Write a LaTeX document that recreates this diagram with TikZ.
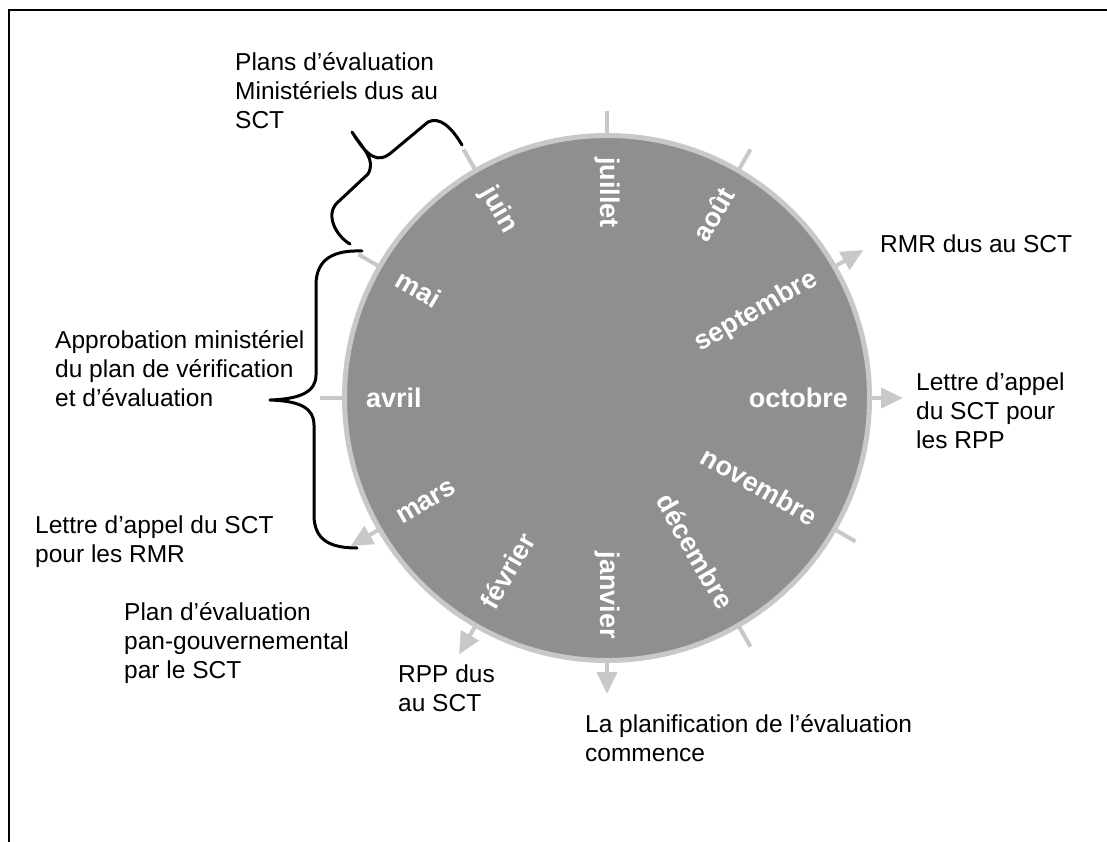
\documentclass[tikz,border=0pt]{standalone}
\usepackage{fontspec}
\setmainfont{Liberation Sans}
\usetikzlibrary{arrows.meta}
\definecolor{ringgray}{RGB}{200,200,200}
\definecolor{wheelgray}{RGB}{143,143,143}
\begin{document}
\begin{tikzpicture}[x=1pt,y=1pt,
  txt/.style={anchor=north west, inner sep=0pt, align=left, font=\fontsize{24.5}{29}\selectfont, text=black},
  month/.style={inner sep=0pt, text=white, font=\bfseries\fontsize{27}{30}\selectfont},
  tickline/.style={draw=ringgray, line width=4pt},
  evtarrow/.style={tickline, -{Triangle[length=22pt,width=20pt]}},
  bracket/.style={draw=black, line width=3pt, line cap=round, line join=round}]
\useasboundingbox (0,0) rectangle (1107,-842);
\draw[line width=2.5pt] (9,-842) -- (9,-10) -- (1107,-10);
\coordinate (c) at (607,-398);
\filldraw[fill=wheelgray, draw=ringgray, line width=5pt] (c) circle (262.5);
\foreach \a in {90,60,-30,-60,180,150,120}
  \draw[tickline] (c) ++(\a:264) -- ++(\a:23);
\foreach \a in {30,0,-90,-120,-150}
  \draw[evtarrow] (c) ++(\a:264) -- ++(\a:32);
% month labels
\node[month, rotate=-90, anchor=west] (jul) at ([shift={(90:241)}]c) {juillet};
\node[month, rotate=60, anchor=east] (aou) at ([shift={(60:241)}]c) {août};
\node[month, rotate=30, anchor=east] (sep) at ([shift={(30:241)}]c) {septembre};
\node[month, rotate=0, anchor=east] (oct) at ([shift={(0:241)}]c) {octobre};
\node[month, rotate=-30, anchor=east] (nov) at ([shift={(-30:241)}]c) {novembre};
\node[month, rotate=-60, anchor=east] (dec) at ([shift={(-60:241)}]c) {décembre};
\node[month, rotate=-90, anchor=east] (jan) at ([shift={(-90:241)}]c) {janvier};
\node[month, rotate=60, anchor=west] (fev) at ([shift={(-120:241)}]c) {février};
\node[month, rotate=30, anchor=west] (mar) at ([shift={(-150:241)}]c) {mars};
\node[month, rotate=0, anchor=west] (avr) at ([shift={(180:241)}]c) {avril};
\node[month, rotate=-30, anchor=west] (mai) at ([shift={(150:241)}]c) {mai};
\node[month, rotate=-60, anchor=west] (jun) at ([shift={(120:241)}]c) {juin};
% texts
\node[txt] (plans) at (235,-52.5) {Plans d’évaluation\\Ministériels dus au\\SCT};
\node[txt] (rmrdus) at (880,-235) {RMR dus au SCT};
\node[txt] (lettrerpp) at (916,-372.5) {Lettre d’appel\\du SCT pour\\les RPP};
\node[txt] (approb) at (55,-330) {Approbation ministériel\\du plan de vérification\\et d’évaluation};
\node[txt] (lettrermr) at (35,-516) {Lettre d’appel du SCT\\pour les RMR};
\node[txt] (pangouv) at (124,-602) {Plan d’évaluation\\pan-gouvernemental\\par le SCT};
\node[txt] (rppdus) at (398,-664.5) {RPP dus\\au SCT};
\node[txt] (planif) at (585,-714.5) {La planification de l’évaluation\\commence};
% braces
\draw[bracket] (462,-145) .. controls (452,-128) and (440,-116) .. (428,-122)
  -- (392,-152) .. controls (378,-164) and (368,-158) .. (352,-132)
  .. controls (364,-150) and (376,-160) .. (368,-174)
  -- (337,-203) .. controls (325,-215) and (336,-236) .. (350,-244);
\draw[bracket] (362,-251) .. controls (335,-250) and (316,-258) .. (316,-285)
  -- (316,-375) .. controls (316,-392) and (300,-399) .. (270,-400)
  .. controls (300,-401) and (314,-408) .. (314,-425)
  -- (314,-515) .. controls (314,-540) and (330,-548) .. (357,-548);
\end{tikzpicture}
\end{document}
